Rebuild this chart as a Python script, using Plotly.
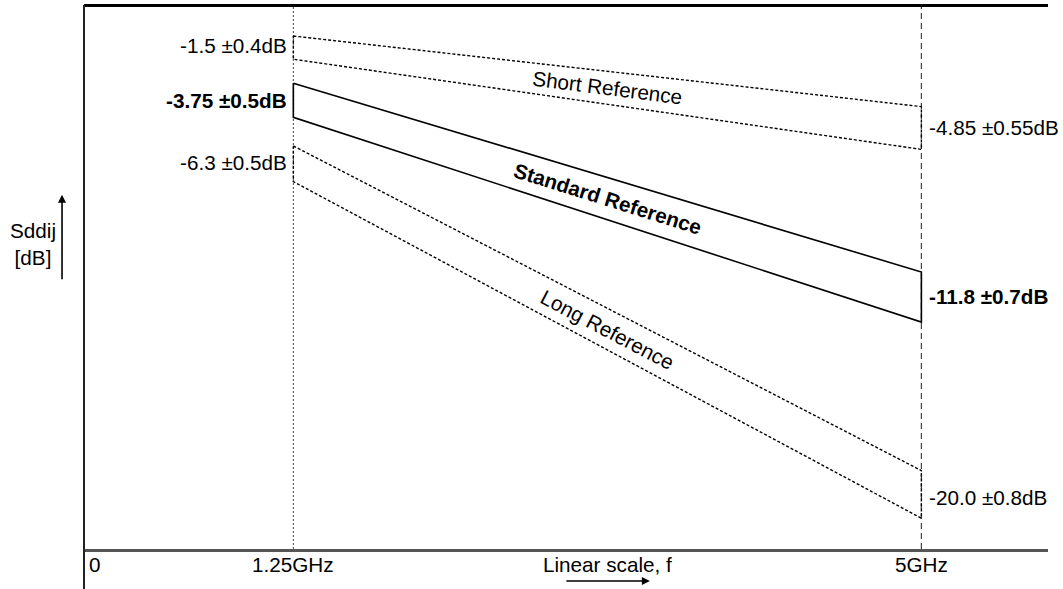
import plotly.graph_objects as go

# ---- data ----
freq_ghz = [1.25, 5.0]                      # band end frequencies
short_upper = [-1.12, -4.01]
short_lower = [-2.07, -5.76]
std_upper = [-3.05, -10.78]
std_lower = [-4.45, -12.83]
long_upper = [-5.62, -18.91]
long_lower = [-7.08, -20.86]

nominal_125 = [-1.5, -3.75, -6.3]           # short, standard, long at 1.25 GHz
nominal_5 = [-4.85, -11.8, -20.0]           # short, standard, long at 5 GHz
labels_125 = ["-1.5 ±0.4dB", "<b>-3.75 ±0.5dB</b>", "-6.3 ±0.5dB"]
labels_5 = ["-4.85 ±0.55dB", "<b>-11.8 ±0.7dB</b>", "-20.0 ±0.8dB"]
band_names = ["Short Reference", "<b>Standard Reference</b>", "Long Reference"]
band_angles = [7.2, 17.3, 27.7]

tick_vals = [0, 1.25, 5.0]
tick_text = ["0", "1.25GHz", "5GHz"]

x_range = [0, 5.756]
y_range = [-22.12, 0.15]

FONT = "Liberation Sans, Arial, sans-serif"
FS = 20.7

fig = go.Figure()

bands = [
    (short_upper, short_lower, "3px,2px", 1.4),
    (std_upper, std_lower, "solid", 1.6),
    (long_upper, long_lower, "3px,2px", 1.4),
]
for up, lo, dash, w in bands:
    xs = [freq_ghz[0], freq_ghz[1], freq_ghz[1], freq_ghz[0], freq_ghz[0]]
    ys = [up[0], up[1], lo[1], lo[0], up[0]]
    fig.add_trace(go.Scatter(x=xs, y=ys, mode="lines",
                             line=dict(color="black", width=w, dash=dash),
                             hoverinfo="skip", showlegend=False))

# vertical reference lines at the two frequencies
fig.add_shape(type="line", xref="x", yref="paper", x0=freq_ghz[0], x1=freq_ghz[0],
              y0=0, y1=1, line=dict(color="#444", width=1, dash="2px,2px"), layer="below")
fig.add_shape(type="line", xref="x", yref="paper", x0=freq_ghz[1], x1=freq_ghz[1],
              y0=0, y1=1, line=dict(color="#444", width=1.2, dash="6px,4px"), layer="below")

# frame: top border and left axis extending below the plot
fig.add_shape(type="line", xref="paper", yref="paper", x0=0, x1=1, y0=0.999, y1=0.999,
              line=dict(color="black", width=3))
fig.add_shape(type="line", xref="paper", yref="paper", x0=0, x1=0, y0=-0.08, y1=1,
              line=dict(color="#222", width=2))

ann = []
for i in range(3):
    ann.append(dict(x=freq_ghz[0], y=nominal_125[i], xref="x", yref="y", text=labels_125[i],
                    showarrow=False, xanchor="right", yanchor="middle", xshift=-4,
                    font=dict(family=FONT, size=FS, color="black")))
    ann.append(dict(x=freq_ghz[1], y=nominal_5[i], xref="x", yref="y", text=labels_5[i],
                    showarrow=False, xanchor="left", yanchor="middle", xshift=6,
                    font=dict(family=FONT, size=FS, color="black")))

# band names at the middle of each band
for (up, lo, _, _), name, ang in zip(bands, band_names, band_angles):
    xm = (freq_ghz[0] + freq_ghz[1]) / 2
    ym = (up[0] + up[1] + lo[0] + lo[1]) / 4
    ann.append(dict(x=xm, y=ym, xref="x", yref="y", text=name, textangle=ang,
                    showarrow=False, font=dict(family=FONT, size=FS, color="black")))

# tick labels
for v, t in zip(tick_vals, tick_text):
    ann.append(dict(x=v, y=0, xref="x", yref="paper", text=t, showarrow=False,
                    xanchor="left" if v == 0 else "center", yanchor="top",
                    xshift=3 if v == 0 else 0, yshift=-2,
                    font=dict(family=FONT, size=FS, color="black")))

# axis titles
ann.append(dict(x=0.543, y=0, xref="paper", yref="paper", text="Linear scale, f",
                showarrow=False, xanchor="center", yanchor="top", yshift=-2,
                font=dict(family=FONT, size=FS, color="black")))
ann.append(dict(x=0.587, y=-0.0588, xref="paper", yref="paper", text="",
                showarrow=True, ax=-85, ay=0, arrowhead=2, arrowsize=1, arrowwidth=1.6,
                arrowcolor="black"))
ann.append(dict(x=-0.0529, y=0.56, xref="paper", yref="paper", text="Sddij<br>[dB]",
                showarrow=False, xanchor="center", yanchor="middle",
                font=dict(family=FONT, size=FS, color="black")))
ann.append(dict(x=-0.0228, y=0.651, xref="paper", yref="paper", text="",
                showarrow=True, ax=0, ay=86, arrowhead=2, arrowsize=1, arrowwidth=1.6,
                arrowcolor="black"))

fig.update_layout(
    width=1063, height=589,
    margin=dict(l=84, r=15, t=5, b=40),
    paper_bgcolor="white", plot_bgcolor="white",
    annotations=ann,
    xaxis=dict(range=x_range, showgrid=False, zeroline=False, showticklabels=False,
               ticks="", showline=True, linecolor="#555", linewidth=2.5),
    yaxis=dict(range=y_range, showgrid=False, zeroline=False, showticklabels=False,
               ticks="", showline=False),
    font=dict(family=FONT, size=FS, color="black"),
)

fig.write_html("out.html", config={"displayModeBar": False},
               post_script="document.body.style.margin='0';document.body.style.overflow='hidden';")
